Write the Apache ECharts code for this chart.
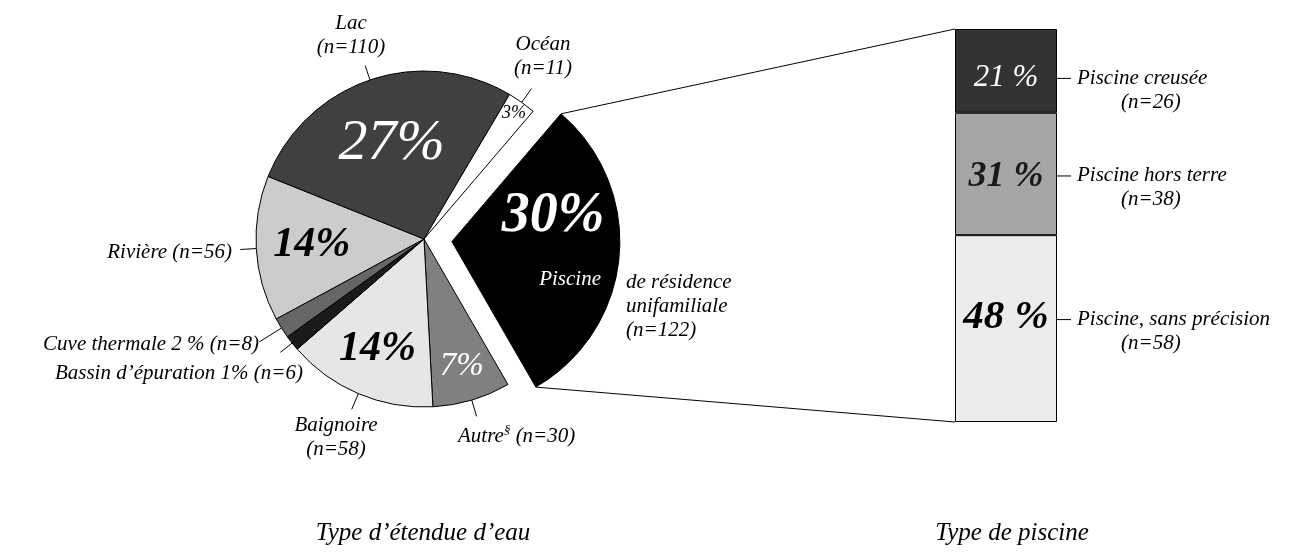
<!DOCTYPE html>
<html>
<head>
<meta charset="utf-8">
<title>Type d'étendue d'eau</title>
<script src="https://cdn.jsdelivr.net/npm/echarts@6/dist/echarts.min.js"></script>
<style>
  html, body { margin: 0; padding: 0; background: #fff; }
  #main { width: 1299px; height: 554px; }
</style>
</head>
<body>
<div id="main"></div>
<script>
// données : type d'étendue d'eau (sens horaire à partir de la piscine)
var waterNames = ['Piscine', 'Autre', 'Baignoire', 'Bassin d’épuration', 'Cuve thermale', 'Rivière', 'Lac', 'Océan'];
var waterCounts = [122, 30, 58, 6, 8, 56, 110, 11];
var waterLabels = [
  'de résidence\nunifamiliale\n(n=122)',
  'Autre§ (n=30)',
  'Baignoire\n(n=58)',
  'Bassin d’épuration 1% (n=6)',
  'Cuve thermale 2 % (n=8)',
  'Rivière (n=56)',
  'Lac\n(n=110)',
  'Océan\n(n=11)'
];
// données : type de piscine (de haut en bas)
var poolNames = ['Piscine creusée', 'Piscine hors terre', 'Piscine, sans précision'];
var poolCounts = [26, 38, 58];
var axisTitles = ['Type d’étendue d’eau', 'Type de piscine'];

// styles
var FONT = 'Liberation Serif';
var pieColors = ['#000000', '#808080', '#e6e6e6', '#1a1a1a', '#666666', '#cccccc', '#404040', '#ffffff'];
var poolColors = ['#333333', '#a6a6a6', '#ececec'];
// pourcentages dans les secteurs : taille, graisse, couleur, rayon relatif
var pctLabel = [
  { size: 56, weight: 'bold', color: '#fff', r: 0.62 },
  { size: 33, weight: 'normal', color: '#fff', r: 0.79 },
  { size: 42, weight: 'bold', color: '#000', r: 0.71 },
  null,
  null,
  { size: 42, weight: 'bold', color: '#000', r: 0.67 },
  { size: 58, weight: 'normal', color: '#fff', r: 0.6 },
  { size: 18, weight: 'normal', color: '#000', r: 0.92 }
];
// étiquettes extérieures : x, y, alignement, longueur du trait
var nameAnchor = [
  [626, 306, 'left', 0],
  [458, 436, 'left', 17],
  [336, 437, 'center', 17],
  [303, 373, 'right', 15],
  [259, 344, 'right', 26],
  [232, 252, 'right', 16],
  [351, 35, 'center', 15],
  [543, 56, 'center', 17]
];
var poolPct = [
  { size: 31, weight: 'normal', color: '#fff', dy: 6.5 },
  { size: 36, weight: 'bold', color: '#1a1a1a', dy: 2.5 },
  { size: 41, weight: 'bold', color: '#000', dy: -11 }
];
var poolNameDy = [19.5, 14, 3];

var CX = 424, CY = 239, R = 168, START = 49.5, OFFSET = 28;
var GRID = { left: 955, top: 29, width: 102, height: 393 };

var total = waterCounts.reduce(function (a, b) { return a + b; }, 0);
var poolTotal = poolCounts.reduce(function (a, b) { return a + b; }, 0);

function sliceAngles (i) {
  var before = 0;
  for (var k = 0; k < i; k++) before += waterCounts[k];
  var a0 = -START * Math.PI / 180 + before / total * 2 * Math.PI;
  var a1 = a0 + waterCounts[i] / total * 2 * Math.PI;
  return [a0, a1, (a0 + a1) / 2];
}
function polar (a, r, cx, cy) {
  cx = cx == null ? CX : cx;
  cy = cy == null ? CY : cy;
  return [cx + r * Math.cos(a), cy + r * Math.sin(a)];
}
function pctText (v) {
  return Math.round(v / total * 100) + '%';
}

var myChart = echarts.init(document.getElementById('main'));

// secteurs + pourcentages (sauf la piscine détachée)
var pieData = waterNames.map(function (n, i) {
  var s = pctLabel[i];
  return {
    name: n,
    value: waterCounts[i],
    selected: i === 0,
    itemStyle: { color: pieColors[i] },
    label: (s && i !== 0) ? { show: true, fontSize: s.size, fontWeight: s.weight, color: s.color } : { show: false }
  };
});

// étiquettes extérieures
var nameData = waterNames.map(function (n, i) {
  return {
    name: n,
    value: waterCounts[i],
    labelLine: { show: i !== 0 }
  };
});

// pourcentage de la piscine détachée
var poolSliceData = waterNames.map(function (n, i) {
  return { name: n, value: waterCounts[i], label: { show: i === 0 } };
});

var series = [
  {
    type: 'pie',
    center: [CX, CY],
    radius: R,
    startAngle: START,
    clockwise: true,
    selectedMode: 'single',
    selectedOffset: OFFSET,
    avoidLabelOverlap: false,
    emphasis: { scale: false },
    itemStyle: { borderColor: '#000', borderWidth: 1 },
    select: { itemStyle: { color: '#000', borderColor: '#000', borderWidth: 1 } },
    label: {
      position: 'inside',
      fontFamily: FONT,
      fontStyle: 'italic',
      formatter: function (p) { return pctText(p.value); }
    },
    labelLine: { show: false },
    labelLayout: function (params) {
      var i = params.dataIndex;
      var p = polar(sliceAngles(i)[2], pctLabel[i] ? pctLabel[i].r * R : 0);
      return { x: p[0], y: p[1], align: 'center', verticalAlign: 'middle' };
    },
    data: pieData
  },
  {
    type: 'pie',
    z: 5,
    center: [CX, CY],
    radius: R,
    startAngle: START,
    clockwise: true,
    silent: true,
    avoidLabelOverlap: false,
    itemStyle: { color: 'rgba(0,0,0,0)', borderWidth: 0 },
    label: {
      position: 'inside',
      fontFamily: FONT,
      fontStyle: 'italic',
      formatter: function (p) {
        return '{big|' + pctText(p.value) + '}\n{sub|' + p.name + '}';
      },
      rich: {
        big: { fontFamily: FONT, fontStyle: 'italic', fontWeight: 'bold', fontSize: pctLabel[0].size, color: '#fff', lineHeight: 56, align: 'center' },
        sub: { fontFamily: FONT, fontStyle: 'italic', fontSize: 21, color: '#fff', lineHeight: 70, align: 'center', padding: [0, 0, 0, 34] }
      }
    },
    labelLine: { show: false },
    labelLayout: function (params) {
      var ang = sliceAngles(params.dataIndex);
      var c = polar(ang[2], OFFSET);
      var q = polar(ang[2] - 19 * Math.PI / 180, pctLabel[0].r * R, c[0], c[1]);
      return { x: q[0], y: q[1] - 28, align: 'center', verticalAlign: 'top' };
    },
    data: poolSliceData
  },
  {
    type: 'pie',
    z: 5,
    center: [CX, CY],
    radius: R,
    startAngle: START,
    clockwise: true,
    silent: true,
    avoidLabelOverlap: false,
    itemStyle: { color: 'rgba(0,0,0,0)', borderWidth: 0 },
    label: {
      position: 'outside',
      color: '#000',
      fontFamily: FONT,
      fontStyle: 'italic',
      fontSize: 21,
      lineHeight: 24,
      formatter: function (p) {
        return waterLabels[p.dataIndex].replace('§', '{sup|§}');
      },
      rich: {
        sup: { fontFamily: FONT, fontStyle: 'italic', fontSize: 13, color: '#000', verticalAlign: 'top', lineHeight: 24 }
      }
    },
    labelLine: { show: true, lineStyle: { color: '#000', width: 1 } },
    labelLayout: function (params) {
      var i = params.dataIndex;
      var an = nameAnchor[i];
      var out = { x: an[0], y: an[1], align: an[2], verticalAlign: 'middle' };
      if (an[3] > 0) {
        var mid = sliceAngles(i)[2];
        out.labelLinePoints = [polar(mid, R), polar(mid, R + an[3])];
      }
      return out;
    },
    data: nameData
  }
];

// barres empilées : la première série est en bas
for (var i = poolNames.length - 1; i >= 0; i--) {
  var st = poolPct[i];
  series.push({
    type: 'bar',
    xAxisIndex: 0,
    yAxisIndex: 0,
    stack: 'pct',
    barWidth: '100%',
    itemStyle: { color: poolColors[i], borderColor: '#000', borderWidth: 1 },
    label: {
      show: true,
      position: 'inside',
      offset: [0, st.dy],
      fontFamily: FONT,
      fontStyle: 'italic',
      fontWeight: st.weight,
      fontSize: st.size,
      color: st.color,
      formatter: Math.round(poolCounts[i] / poolTotal * 100) + ' %'
    },
    data: [poolCounts[i]]
  });
}
for (var j = poolNames.length - 1; j >= 0; j--) {
  series.push({
    type: 'bar',
    xAxisIndex: 1,
    yAxisIndex: 0,
    stack: 'names',
    barWidth: '100%',
    silent: true,
    itemStyle: { color: 'rgba(0,0,0,0)' },
    label: {
      show: true,
      position: 'right',
      distance: 0,
      offset: [0, poolNameDy[j]],
      align: 'left',
      formatter: '{ln| }{t|' + poolNames[j] + '}\n{n|(n=' + poolCounts[j] + ')}',
      rich: {
        ln: { width: 14, height: 1, backgroundColor: '#000', lineHeight: 24 },
        t: { fontFamily: FONT, fontStyle: 'italic', fontSize: 21, color: '#000', lineHeight: 24, padding: [0, 0, 0, 6] },
        n: { fontFamily: FONT, fontStyle: 'italic', fontSize: 21, color: '#000', lineHeight: 24, padding: [0, 0, 0, 64] }
      }
    },
    data: [poolCounts[j]]
  });
}

// traits reliant la piscine à la barre
var ang0 = sliceAngles(0);
var c0 = polar(ang0[2], OFFSET);
var pTop = polar(ang0[0], R, c0[0], c0[1]);
var pBot = polar(ang0[1], R, c0[0], c0[1]);

var option = {
  animation: false,
  backgroundColor: '#fff',
  title: [
    { text: axisTitles[0], left: 423, top: 533, padding: 0, textAlign: 'center', textVerticalAlign: 'middle',
      textStyle: { fontFamily: FONT, fontStyle: 'italic', fontWeight: 'normal', fontSize: 25, color: '#000' } },
    { text: axisTitles[1], left: 1012, top: 533, padding: 0, textAlign: 'center', textVerticalAlign: 'middle',
      textStyle: { fontFamily: FONT, fontStyle: 'italic', fontWeight: 'normal', fontSize: 25, color: '#000' } }
  ],
  grid: GRID,
  xAxis: [
    { type: 'category', data: ['piscine'], show: false, gridIndex: 0 },
    { type: 'category', data: ['piscine'], show: false, gridIndex: 0 }
  ],
  yAxis: { type: 'value', min: 0, max: poolTotal, show: false },
  graphic: [
    { type: 'line', shape: { x1: pTop[0], y1: pTop[1], x2: GRID.left, y2: GRID.top }, style: { stroke: '#000', lineWidth: 1 } },
    { type: 'line', shape: { x1: pBot[0], y1: pBot[1], x2: GRID.left, y2: GRID.top + GRID.height }, style: { stroke: '#000', lineWidth: 1 } }
  ],
  series: series
};

myChart.setOption(option);
</script>
</body>
</html>
